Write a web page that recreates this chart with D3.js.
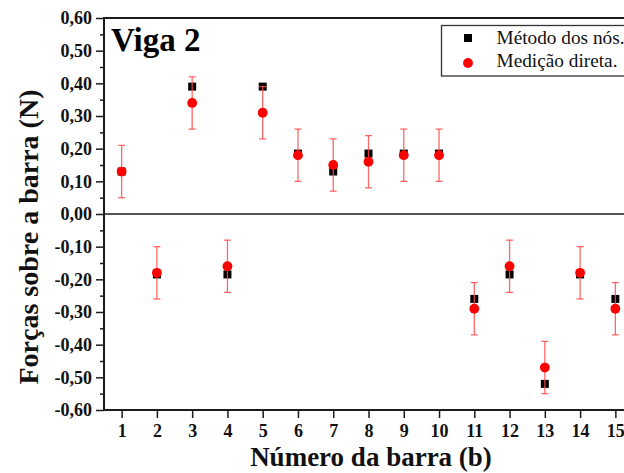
<!DOCTYPE html>
<html>
<head>
<meta charset="utf-8">
<script src="https://cdn.jsdelivr.net/npm/d3@7"></script>
<style>
  html, body { margin: 0; padding: 0; background: #fff; }
  svg { display: block; }
  text { font-family: "Liberation Serif", "Times New Roman", serif; }
</style>
</head>
<body>
<svg id="chart" width="624" height="473"></svg>
<script>
// ---- data ----
const bars = [1, 2, 3, 4, 5, 6, 7, 8, 9, 10, 11, 12, 13, 14, 15];
const metodoNos = [0.13, -0.185, 0.39, -0.185, 0.39, 0.185, 0.13, 0.185, 0.185, 0.185, -0.26, -0.185, -0.52, -0.185, -0.26];
const medicaoDireta = [0.13, -0.18, 0.34, -0.16, 0.31, 0.18, 0.15, 0.16, 0.18, 0.18, -0.29, -0.16, -0.47, -0.18, -0.29];
const erroMedicao = [0.08, 0.08, 0.08, 0.08, 0.08, 0.08, 0.08, 0.08, 0.08, 0.08, 0.08, 0.08, 0.08, 0.08, 0.08];
const yTicks = [-0.6, -0.5, -0.4, -0.3, -0.2, -0.1, 0, 0.1, 0.2, 0.3, 0.4, 0.5, 0.6];
const yMinorTicks = [-0.55, -0.45, -0.35, -0.25, -0.15, -0.05, 0.05, 0.15, 0.25, 0.35, 0.45, 0.55];
const seriesNames = ["Método dos nós.", "Medição direta."];
const title = "Viga 2";
const xLabel = "Número da barra (b)";
const yLabel = "Forças sobre a barra (N)";

// ---- layout ----
const svg = d3.select("#chart");
const pLeft = 104, pRight = 633, pTop = 18, pBottom = 410;
const x = d3.scaleLinear().domain([0.5, 15.5]).range([pLeft, pRight]);
const y = d3.scaleLinear().domain([-0.6, 0.6]).range([pBottom, pTop]);
const fmt = v => d3.format(".2f")(v).replace(".", ",").replace("−", "-");
const axisColor = "#1c1c1c";

// y axis major ticks
const gy = svg.append("g").attr("transform", `translate(${pLeft},0)`)
  .call(d3.axisLeft(y).tickValues(yTicks).tickSize(8).tickPadding(4).tickFormat(fmt));
gy.select(".domain").remove();
gy.selectAll("line").attr("stroke", axisColor).attr("stroke-width", 1.5);
gy.selectAll("text").attr("font-family", "Liberation Serif").attr("font-weight", "bold")
  .attr("font-size", 18).attr("fill", "#111");

// y axis minor ticks
const gym = svg.append("g").attr("transform", `translate(${pLeft},0)`)
  .call(d3.axisLeft(y).tickValues(yMinorTicks).tickSize(4).tickFormat(""));
gym.select(".domain").remove();
gym.selectAll("line").attr("stroke", axisColor).attr("stroke-width", 1.5);

// x axis
const gx = svg.append("g").attr("transform", `translate(0,${pBottom})`)
  .call(d3.axisBottom(x).tickValues(bars).tickSize(8).tickPadding(6).tickFormat(d3.format("d")));
gx.select(".domain").remove();
gx.selectAll("line").attr("stroke", axisColor).attr("stroke-width", 1.5);
gx.selectAll("text").attr("font-family", "Liberation Serif").attr("font-weight", "bold")
  .attr("font-size", 18).attr("fill", "#111");

// frame
svg.append("line").attr("x1", pLeft).attr("x2", pLeft).attr("y1", pTop - 1).attr("y2", pBottom + 1)
  .attr("stroke", axisColor).attr("stroke-width", 2);
svg.append("line").attr("x1", pLeft - 1).attr("x2", pRight).attr("y1", pBottom).attr("y2", pBottom)
  .attr("stroke", axisColor).attr("stroke-width", 2);
svg.append("line").attr("x1", pLeft - 1).attr("x2", pRight).attr("y1", pTop).attr("y2", pTop)
  .attr("stroke", axisColor).attr("stroke-width", 2);
// zero line
svg.append("line").attr("x1", pLeft).attr("x2", pRight).attr("y1", y(0)).attr("y2", y(0))
  .attr("stroke", axisColor).attr("stroke-width", 1.5);

// squares (Método dos nós)
const sq = 8;
svg.append("g").selectAll("rect").data(bars).join("rect")
  .attr("x", (d, i) => x(d) - sq / 2)
  .attr("y", (d, i) => y(metodoNos[i]) - sq / 2)
  .attr("width", sq).attr("height", sq).attr("fill", "#000");

// error bars
const cap = 3.5;
const eb = svg.append("g").attr("stroke", "#ff4d4d").attr("stroke-width", 1.3).attr("stroke-opacity", 0.85);
bars.forEach((d, i) => {
  const cx = x(d);
  const y1 = y(medicaoDireta[i] + erroMedicao[i]);
  const y2 = y(medicaoDireta[i] - erroMedicao[i]);
  eb.append("line").attr("x1", cx).attr("x2", cx).attr("y1", y1).attr("y2", y2);
  eb.append("line").attr("x1", cx - cap).attr("x2", cx + cap).attr("y1", y1).attr("y2", y1);
  eb.append("line").attr("x1", cx - cap).attr("x2", cx + cap).attr("y1", y2).attr("y2", y2);
});

// circles (Medição direta)
svg.append("g").selectAll("circle").data(bars).join("circle")
  .attr("cx", d => x(d))
  .attr("cy", (d, i) => y(medicaoDireta[i]))
  .attr("r", 4.9).attr("fill", "#ff0000");

// title
svg.append("text").attr("x", 111).attr("y", 51)
  .attr("font-weight", "bold").attr("font-size", 33).attr("fill", "#000").text(title);

// legend
svg.append("rect").attr("x", 441.5).attr("y", 25.5).attr("width", 200).attr("height", 50.5)
  .attr("fill", "#fff").attr("stroke", "#333").attr("stroke-width", 1.3);
svg.append("rect").attr("x", 468 - 4).attr("y", 38 - 4).attr("width", 8).attr("height", 8).attr("fill", "#000");
svg.append("circle").attr("cx", 468).attr("cy", 63).attr("r", 4.9).attr("fill", "#ff0000");
svg.append("text").attr("x", 496.5).attr("y", 43.5).attr("font-size", 19.3).attr("fill", "#111").text(seriesNames[0]);
svg.append("text").attr("x", 496.5).attr("y", 67).attr("font-size", 19.3).attr("fill", "#111").text(seriesNames[1]);

// axis labels
svg.append("text").attr("x", 371).attr("y", 466).attr("text-anchor", "middle")
  .attr("font-weight", "bold").attr("font-size", 27).attr("fill", "#111").text(xLabel);
svg.append("text").attr("transform", "translate(38,237) rotate(-90)").attr("text-anchor", "middle")
  .attr("font-weight", "bold").attr("font-size", 28).attr("fill", "#111").text(yLabel);
</script>
</body>
</html>
